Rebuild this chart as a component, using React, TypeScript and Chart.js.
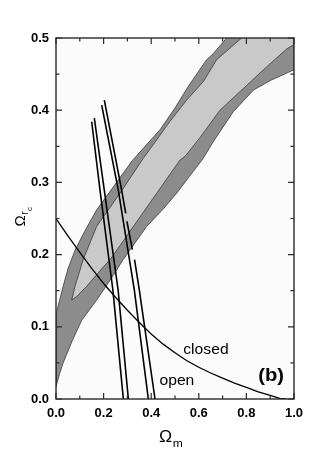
import React, { useEffect, useRef } from "react";
import { Chart, registerables } from "chart.js";

Chart.register(...registerables);

// ---- tick values ----
const xMajorTicks = [0, 0.2, 0.4, 0.6, 0.8, 1.0];
const xMinorTicks = [0.1, 0.3, 0.5, 0.7, 0.9];
const yMajorTicks = [0, 0.1, 0.2, 0.3, 0.4, 0.5];
const yMinorTicks = [0.05, 0.15, 0.25, 0.35, 0.45];

// ---- confidence regions (Omega_m, Omega_rc) ----
const outerBand: [number, number][] = [
  [0.717, 0.5], [0.66, 0.478], [0.633, 0.47], [0.556, 0.433], [0.5, 0.403],
  [0.437, 0.373], [0.38, 0.352], [0.32, 0.33], [0.25, 0.298], [0.171, 0.262],
  [0.12, 0.232], [0.08, 0.206], [0.05, 0.18], [0.03, 0.156], [0.01, 0.13],
  [0, 0.118], [0, 0.017], [0.015, 0.035], [0.03, 0.05], [0.07, 0.082],
  [0.108, 0.109], [0.171, 0.137], [0.23, 0.166], [0.282, 0.193], [0.381, 0.239],
  [0.45, 0.263], [0.507, 0.285], [0.56, 0.308], [0.618, 0.333], [0.66, 0.356],
  [0.745, 0.398], [0.83, 0.428], [0.9, 0.441], [1.0, 0.456], [1.0, 0.5],
];

const innerBand: [number, number][] = [
  [0.78, 0.5], [0.675, 0.47], [0.62, 0.44], [0.549, 0.414], [0.48, 0.385],
  [0.41, 0.353], [0.366, 0.333], [0.269, 0.285], [0.171, 0.239], [0.114, 0.193],
  [0.08, 0.156], [0.066, 0.137], [0.087, 0.142], [0.129, 0.156], [0.199, 0.183],
  [0.227, 0.193], [0.285, 0.22], [0.325, 0.239], [0.423, 0.285], [0.521, 0.331],
  [0.542, 0.336], [0.605, 0.362], [0.689, 0.4], [0.8, 0.434], [0.885, 0.46],
  [0.97, 0.485], [1.0, 0.491], [1.0, 0.5],
];

// ---- flat-universe boundary (closed / open) ----
const flatCurve: [number, number][] = [
  [0, 0.25], [0.05, 0.226], [0.1, 0.203], [0.15, 0.181], [0.2, 0.16],
  [0.25, 0.141], [0.3, 0.123], [0.35, 0.106], [0.4, 0.09], [0.45, 0.076],
  [0.5, 0.064], [0.55, 0.053], [0.6, 0.044], [0.65, 0.036], [0.7, 0.029],
  [0.75, 0.022], [0.8, 0.016], [0.85, 0.01], [0.9, 0.005], [0.94, 0.001], [0.97, 0],
];

// ---- double-line constraints ----
const lineA1: [number, number][] = [[0.15, 0.384], [0.185, 0.289], [0.239, 0.151], [0.283, 0]];
const lineA2: [number, number][] = [[0.161, 0.389], [0.203, 0.289], [0.261, 0.151], [0.304, 0]];
const lineB1: [number, number][] = [[0.192, 0.407], [0.262, 0.289], [0.329, 0.151], [0.388, 0]];
const lineB2a: [number, number][] = [[0.203, 0.414], [0.276, 0.289], [0.293, 0.257]];
const lineB2b: [number, number][] = [[0.298, 0.246], [0.321, 0.207]];
const lineB2c: [number, number][] = [[0.33, 0.193], [0.35, 0.151], [0.416, 0]];

// ---- text labels ----
const textLabels = ["closed", "open", "(b)"];
const textX = [0.63, 0.508, 0.904];
const textY = [0.068, 0.025, 0.032];

const FONT = '"Liberation Sans", Arial, Helvetica, sans-serif';

const toPts = (arr: [number, number][]) => arr.map(([x, y]) => ({ x, y }));

export default function App() {
  const ref = useRef<HTMLCanvasElement | null>(null);

  useEffect(() => {
    const canvas = ref.current;
    if (!canvas) return;

    const bgPlugin = {
      id: "plotBg",
      beforeDatasetsDraw(chart: any) {
        const { ctx, chartArea: a } = chart;
        ctx.save();
        ctx.fillStyle = "#fbfbfb";
        ctx.fillRect(a.left, a.top, a.right - a.left, a.bottom - a.top);
        ctx.restore();
      },
    };

    const framePlugin = {
      id: "frame",
      afterDatasetsDraw(chart: any) {
        const { ctx, chartArea: a, scales } = chart;
        const xs = scales.x;
        const ys = scales.y;
        ctx.save();
        ctx.strokeStyle = "#2a2a2a";
        ctx.lineWidth = 1.4;
        ctx.strokeRect(a.left, a.top, a.right - a.left, a.bottom - a.top);
        ctx.lineWidth = 1.2;
        const tick = (vals: number[], len: number, axis: "x" | "y") => {
          for (const v of vals) {
            ctx.beginPath();
            if (axis === "x") {
              const px = xs.getPixelForValue(v);
              ctx.moveTo(px, a.bottom);
              ctx.lineTo(px, a.bottom - len);
              ctx.moveTo(px, a.top);
              ctx.lineTo(px, a.top + len);
            } else {
              const py = ys.getPixelForValue(v);
              ctx.moveTo(a.left, py);
              ctx.lineTo(a.left + len, py);
              ctx.moveTo(a.right, py);
              ctx.lineTo(a.right - len, py);
            }
            ctx.stroke();
          }
        };
        tick(xMajorTicks, 6, "x");
        tick(xMinorTicks, 3.5, "x");
        tick(yMajorTicks, 6, "y");
        tick(yMinorTicks, 3.5, "y");
        ctx.restore();
      },
      afterDraw(chart: any) {
        const { ctx, chartArea: a, scales } = chart;
        const xs = scales.x;
        const ys = scales.y;
        ctx.save();
        ctx.fillStyle = "#000";
        // annotations
        textLabels.forEach((t, i) => {
          const px = xs.getPixelForValue(textX[i]);
          const py = ys.getPixelForValue(textY[i]);
          ctx.save();
          ctx.translate(px, py);
          ctx.scale(1.12, 1);
          ctx.textAlign = "center";
          ctx.textBaseline = "middle";
          ctx.font = t === "(b)" ? `bold 18px ${FONT}` : `14px ${FONT}`;
          ctx.fillText(t, 0, 0);
          ctx.restore();
        });
        // x axis title  Ω_m
        const cx = (a.left + a.right) / 2;
        ctx.textAlign = "left";
        ctx.textBaseline = "alphabetic";
        ctx.save();
        ctx.translate(cx - 16, a.bottom + 43);
        ctx.scale(1.1, 1);
        ctx.font = `16px ${FONT}`;
        const omW = ctx.measureText("Ω").width;
        ctx.fillText("Ω", 0, 0);
        ctx.font = `11px ${FONT}`;
        ctx.fillText("m", omW + 0.5, 5);
        ctx.restore();
        // y axis title  Ω_rc
        const cy = (a.top + a.bottom) / 2;
        ctx.save();
        ctx.translate(25, cy + 2);
        ctx.rotate(-Math.PI / 2);
        ctx.font = `15px ${FONT}`;
        const w1 = ctx.measureText("Ω").width;
        ctx.fillText("Ω", -6, 0);
        ctx.font = `10px ${FONT}`;
        const w2 = ctx.measureText("r").width;
        ctx.fillText("r", -6 + w1 + 0.5, 3);
        ctx.font = `8px ${FONT}`;
        ctx.fillText("c", -6 + w1 + w2 + 1, 7);
        ctx.restore();
        ctx.restore();
      },
    };

    const lineDs = (pts: [number, number][], width = 1.6) => ({
      type: "line" as const,
      data: toPts(pts),
      showLine: true,
      borderColor: "#000",
      borderWidth: width,
      pointRadius: 0,
      fill: false,
      tension: 0,
      order: 1,
    });

    const tickFont = { family: FONT, size: 13, weight: "bold" };

    const chart = new Chart(canvas, {
      type: "scatter",
      data: {
        datasets: [
          {
            type: "line",
            data: toPts(outerBand),
            showLine: true,
            borderColor: "#3a3a3a",
            borderWidth: 0.8,
            backgroundColor: "#8c8c8c",
            fill: "shape",
            pointRadius: 0,
            tension: 0,
            order: 10,
          } as any,
          {
            type: "line",
            data: toPts(innerBand),
            showLine: true,
            borderColor: "#3a3a3a",
            borderWidth: 0.8,
            backgroundColor: "#c9c9c9",
            fill: "shape",
            pointRadius: 0,
            tension: 0,
            order: 9,
          } as any,
          lineDs(flatCurve, 1.3) as any,
          lineDs(lineA1) as any,
          lineDs(lineA2) as any,
          lineDs(lineB1) as any,
          lineDs(lineB2a) as any,
          lineDs(lineB2b) as any,
          lineDs(lineB2c) as any,
        ],
      },
      options: {
        animation: false,
        responsive: false,
        devicePixelRatio: 1,
        layout: { padding: { top: 38, right: 33, bottom: 0, left: 0 } },
        plugins: {
          legend: { display: false },
          tooltip: { enabled: false },
        },
        scales: {
          x: {
            type: "linear",
            min: 0,
            max: 1,
            afterFit: (s: any) => {
              s.height = 72;
            },
            grid: { display: false, drawTicks: false },
            border: { display: false },
            ticks: {
              stepSize: 0.2,
              padding: 7,
              color: "#000",
              maxRotation: 0,
              font: tickFont,
              callback: (v: any) => Number(v).toFixed(1),
            },
          },
          y: {
            type: "linear",
            min: 0,
            max: 0.5,
            afterFit: (s: any) => {
              s.width = 56;
            },
            grid: { display: false, drawTicks: false },
            border: { display: false },
            ticks: {
              stepSize: 0.1,
              padding: 7,
              color: "#000",
              font: tickFont,
              callback: (v: any) => Number(v).toFixed(1),
            },
          },
        },
      } as any,
      plugins: [bgPlugin, framePlugin],
    });

    return () => chart.destroy();
  }, []);

  return (
    <div style={{ position: "fixed", left: 0, top: 0, width: 327, height: 471, background: "#fff" }}>
      <canvas ref={ref} width={327} height={471} style={{ width: 327, height: 471, display: "block" }} />
    </div>
  );
}
